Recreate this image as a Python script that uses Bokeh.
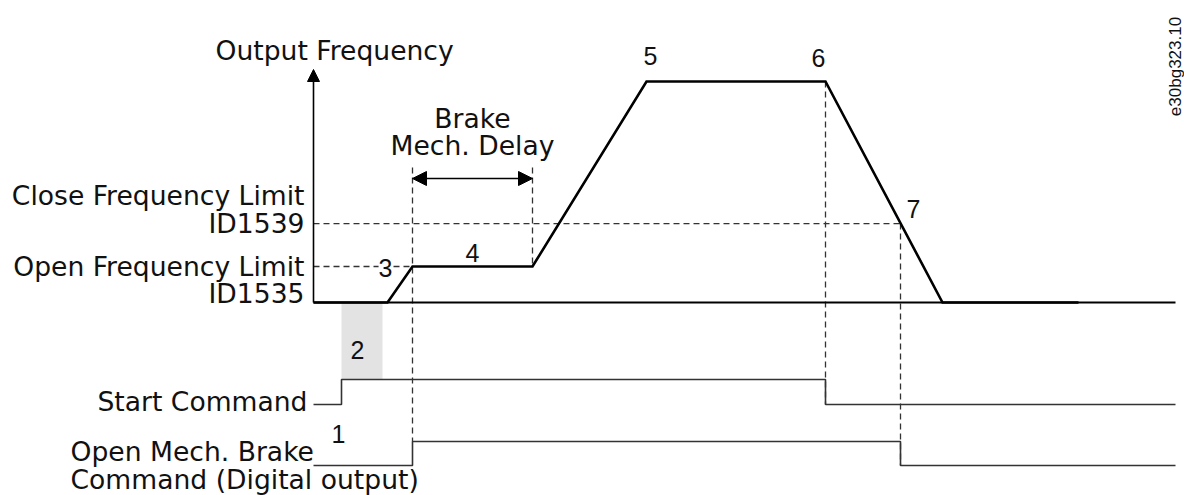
from math import pi
from bokeh.plotting import figure
from bokeh.models import Range1d, Label, Arrow, NormalHead
from bokeh.embed import file_html
from bokeh.resources import INLINE

# ---------------- data (time units / output frequency in % of max) ----------------
freq_t = [0.0, 7.4, 9.9, 21.9, 33.3, 51.2, 62.9, 76.5]      # frequency profile breakpoints
freq_v = [0.0, 0.0, 16.3, 16.3, 100.0, 100.0, 0.0, 0.0]     # output frequency
open_limit = 16.3     # Open Frequency Limit ID1535
close_limit = 35.7    # Close Frequency Limit ID1539
t_end = 86.2

start_t = [0.0, 2.8, 51.2, t_end]     # Start Command
start_state = [0, 1, 0, 0]
brake_t = [0.0, 9.9, 58.7, t_end]     # Open Mech. Brake Command
brake_state = [0, 1, 0, 0]

level_labels = [("Close Frequency Limit", "ID1539"), ("Open Frequency Limit", "ID1535")]
level_values = [close_limit, open_limit]
signal_names = ["Start Command", "Open Mech. Brake\nCommand (Digital output)"]
point_labels = ["1", "2", "3", "4", "5", "6", "7"]

# ---------------- layout helpers (pixel geometry of the drawing) ----------------
X0, XS = 313.0, 10.0     # x pixel of t=0, pixels per time unit
Y0, YS = 302.0, 2.21     # y pixel of f=0, pixels per % frequency
def X(px):
    return (px - X0) / XS
def Y(py):
    return (Y0 - py) / YS

start_lo, start_amp = Y(404), Y(379) - Y(404)
brake_lo, brake_amp = Y(465), Y(441) - Y(465)

W, H = 1184, 495
p = figure(width=W, height=H, x_range=Range1d(X(0), X(W)), y_range=Range1d(Y(H), Y(0)),
           output_backend="svg", toolbar_location=None, min_border=0,
           x_axis_type=None, y_axis_type=None)
p.grid.visible = False
p.outline_line_color = None
p.background_fill_color = "white"
p.border_fill_color = "white"

FONT = "DejaVu Sans"
NUMFONT = "Liberation Sans"
TSIZE = "26.6px"
DASH = "6 4"
DCOL = "#333333"

# gray window "2": from start command to start of ramp
p.quad(left=start_t[1], right=freq_t[1] - 0.5, top=freq_v[0], bottom=start_lo + start_amp,
       fill_color="#e3e3e3", line_color=None)

# dashed reference lines
p.line([freq_t[0], brake_t[2]], [close_limit] * 2, line_dash=DASH, line_color=DCOL, line_width=1.3)
p.line([freq_t[0], freq_t[2]], [open_limit] * 2, line_dash=DASH, line_color=DCOL, line_width=1.3)
arrow_y = Y(178)
top_y = Y(167)
p.line([brake_t[1]] * 2, [top_y, brake_lo + brake_amp], line_dash=DASH, line_color=DCOL, line_width=1.3)
p.line([freq_t[3]] * 2, [top_y, freq_v[3]], line_dash=DASH, line_color=DCOL, line_width=1.3)
p.line([start_t[2]] * 2, [freq_v[5], start_lo], line_dash=DASH, line_color=DCOL, line_width=1.3)
p.line([brake_t[2]] * 2, [close_limit, brake_lo], line_dash=DASH, line_color=DCOL, line_width=1.3)

# baseline (time axis) and frequency profile
p.line([freq_t[0], t_end], [0, 0], line_color="black", line_width=1.8)
p.line(freq_t, freq_v, line_color="black", line_width=2.6, line_join="miter")

# vertical axis with arrow
p.add_layout(Arrow(end=NormalHead(size=12, fill_color="black", line_color="black"),
                   x_start=0, y_start=0, x_end=0, y_end=Y(69),
                   line_color="black", line_width=1.6))

# Brake Mech. Delay double arrow
p.add_layout(Arrow(start=NormalHead(size=14, fill_color="black", line_color="black"),
                   end=NormalHead(size=14, fill_color="black", line_color="black"),
                   x_start=brake_t[1], y_start=arrow_y, x_end=freq_t[3], y_end=arrow_y,
                   line_color="black", line_width=1.6))

# digital signals
p.step(start_t, [start_lo + s * start_amp for s in start_state], mode="after",
       line_color=DCOL, line_width=1.6)
p.step(brake_t, [brake_lo + s * brake_amp for s in brake_state], mode="after",
       line_color=DCOL, line_width=1.6)

def lab(text, px, py, align="center", font=FONT, size=TSIZE, angle=0.0, bg=None):
    kw = {}
    if bg:
        kw["background_fill_color"] = bg
    p.add_layout(Label(x=X(px), y=Y(py), text=text, text_font=font, text_font_size=size,
                       text_align=align, text_baseline="middle", angle=angle,
                       text_color="#111111", **kw))

lab("Output Frequency", 215, 50, align="left")
(c1, c2), (o1, o2) = level_labels
cy = Y0 - close_limit * YS
oy = Y0 - open_limit * YS
lab(c1, 304, cy - 28, align="right")
lab(c2, 304, cy, align="right")
lab(o1, 304, oy, align="right")
lab(o2, 304, oy + 27, align="right")
lab("Brake", 472, 118)
lab("Mech. Delay", 472, 145)
lab(signal_names[0], 307, 401, align="right")
n1, n2 = signal_names[1].split("\n")
lab(n1, 70, 451, align="left")
lab(n2, 70, 479, align="left")

num_pos = [(338, 433), (357, 349), (385, 267), (472, 252), (650, 55), (818, 57), (913, 208)]
for t, (px, py) in zip(point_labels, num_pos):
    lab(t, px, py, font=NUMFONT, size="25px", bg="white" if t == "3" else None)

lab("e30bg323.10", 1175, 66, font=NUMFONT, size="17px", angle=pi / 2)

open("out.html", "w").write(file_html(p, INLINE))
